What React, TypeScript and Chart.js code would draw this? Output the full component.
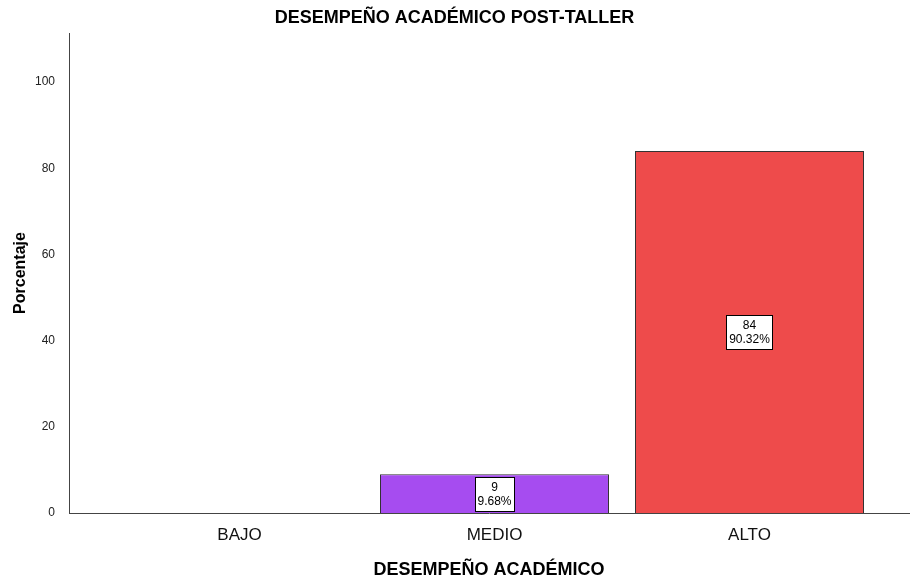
import React, { useEffect, useRef } from "react";
import { Chart, registerables } from "chart.js";

Chart.register(...registerables);

const categories = ["BAJO", "MEDIO", "ALTO"];
const counts = [0, 9, 84];
const percentLabels = [0, 9.68, 90.32];
const barColors = ["#A64CF0", "#A64CF0", "#EE4B4B"];
const yTickValues = [0, 20, 40, 60, 80, 100];

const FONT = "'Liberation Sans', Arial, Helvetica, sans-serif";

const labelPlugin = {
  id: "barBoxLabels",
  afterDatasetsDraw(chart: any) {
    const ctx = chart.ctx;
    const meta = chart.getDatasetMeta(0);
    meta.data.forEach((bar: any, i: number) => {
      if (!counts[i]) return;
      const { x, y, base } = bar.getProps(["x", "y", "base"], true);
      const cy = (y + base) / 2;
      const lines = [String(counts[i]), percentLabels[i].toFixed(2) + "%"];
      ctx.save();
      ctx.font = `12px ${FONT}`;
      const tw = Math.max(...lines.map((l) => ctx.measureText(l).width));
      const w = Math.round(tw + 5);
      const h = 34;
      const bx = Math.round(x - w / 2) + 0.5;
      const by = Math.round(cy - h / 2) + 0.5;
      ctx.fillStyle = "#ffffff";
      ctx.fillRect(bx, by, w, h);
      ctx.strokeStyle = "#000000";
      ctx.lineWidth = 1;
      ctx.strokeRect(bx, by, w, h);
      ctx.fillStyle = "#000000";
      ctx.textAlign = "center";
      ctx.textBaseline = "middle";
      ctx.fillText(lines[0], x, by + h / 2 - 7);
      ctx.fillText(lines[1], x, by + h / 2 + 7);
      ctx.restore();
    });
  },
};

export default function App() {
  const canvasRef = useRef<HTMLCanvasElement | null>(null);

  useEffect(() => {
    const canvas = canvasRef.current;
    if (!canvas) return;
    const chart = new Chart(canvas, {
      type: "bar",
      data: {
        datasets: [
          {
            data: categories.map((_, i) => ({ x: i, y: counts[i] })),
            backgroundColor: barColors,
            borderColor: "#333333",
            borderWidth: (c: any) => (counts[c.dataIndex] ? 1 : 0),
            barPercentage: 0.898,
            categoryPercentage: 1,
          } as any,
        ],
      },
      options: {
        responsive: false,
        animation: false,
        layout: { padding: { left: 0, right: 1, top: 0, bottom: 0 } },
        plugins: {
          legend: { display: false },
          tooltip: { enabled: false },
          title: {
            display: true,
            text: "DESEMPEÑO ACADÉMICO POST-TALLER",
            color: "#000",
            font: { family: FONT, size: 18, weight: "bold" },
            padding: { top: 7.2, bottom: 4.2 },
          },
        },
        scales: {
          x: {
            type: "linear",
            min: -0.6686,
            max: 2.6255,
            offset: false,
            grid: { display: false },
            border: { display: true, color: "#444", width: 1 },
            afterBuildTicks: (s: any) => {
              s.ticks = categories.map((_, i) => ({ value: i }));
            },
            ticks: {
              callback: (v: any) => categories[v] ?? "",
              font: { family: FONT, size: 17 },
              color: "#111",
              padding: 4,
              maxRotation: 0,
              autoSkip: false,
            },
            title: {
              display: true,
              text: "DESEMPEÑO ACADÉMICO",
              color: "#000",
              font: { family: FONT, size: 18, weight: "bold" },
              padding: { top: 0, bottom: 0.2 },
            },
            afterFit: (s: any) => {
              s.height = 68;
            },
          },
          y: {
            min: 0,
            max: 111.4,
            grid: { display: false },
            border: { display: true, color: "#444", width: 1 },
            afterBuildTicks: (s: any) => {
              s.ticks = yTickValues.map((v) => ({ value: v }));
            },
            ticks: {
              font: { family: FONT, size: 12 },
              color: "#222",
              padding: 6,
            },
            title: {
              display: true,
              text: "Porcentaje",
              color: "#000",
              font: { family: FONT, size: 16, weight: "bold" },
              padding: { top: 11, bottom: 0 },
            },
            afterFit: (s: any) => {
              s.width = 69;
            },
          },
        },
      } as any,
      plugins: [labelPlugin],
    });
    return () => chart.destroy();
  }, []);

  return (
    <div style={{ position: "fixed", left: 0, top: 0, width: 910, height: 581, background: "#fff" }}>
      <canvas ref={canvasRef} width={910} height={581} style={{ width: 910, height: 581 }} />
    </div>
  );
}
